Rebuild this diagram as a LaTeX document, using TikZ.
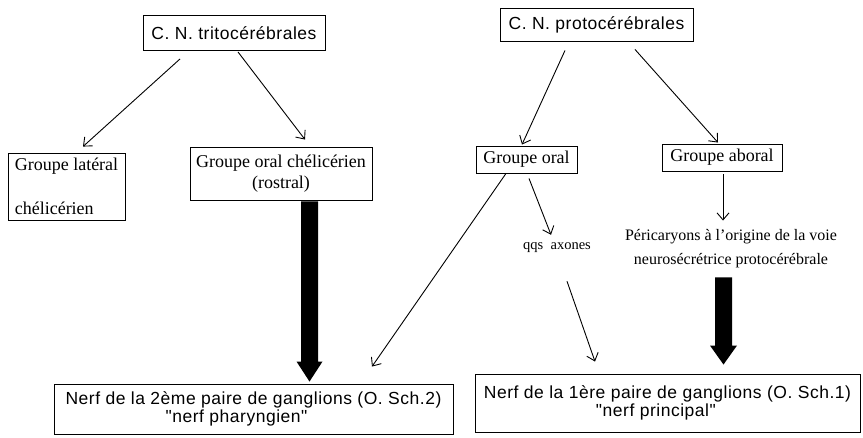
\documentclass[tikz,border=0pt]{standalone}
\usepackage{fontspec}
\setmainfont{Liberation Serif}
\newfontfamily\sansf[LetterSpace=3]{Liberation Sans}
\usetikzlibrary{arrows.meta,calc}
\begin{document}
\begin{tikzpicture}[x=1pt,y=-1pt,
  box/.style={draw, line width=0.9pt, inner sep=0pt, font=\sansf\fontsize{17.5}{21}\selectfont},
  sbox/.style={draw, line width=0.9pt, inner sep=0pt, font=\fontsize{18}{21}\selectfont},
  txt/.style={inner sep=0pt},
  arr/.style={line width=0.9pt, -{Straight Barb[length=7pt,width=12pt]}},
  blk/.style={fill=black}]
\fill[white] (0,0) rectangle (863,437);
\useasboundingbox (0,0) rectangle (863,437);

% top boxes
\node[box, minimum width=182pt, minimum height=35pt] (tri) at (234,33) {C. N. tritocérébrales};
\node[box, minimum width=193pt, minimum height=33pt] (proto) at (596.5,24.5) {C. N. protocérébrales};

% group boxes
\node[sbox, minimum width=117pt, minimum height=67pt, align=left] (lat) at (66.5,186.5) {Groupe latéral\\[23pt]chélicérien};
\node[sbox, minimum width=182pt, minimum height=53pt, align=center] (ocl) at (281,173.5) {Groupe oral chélicérien\\(rostral)};
\node[sbox, minimum width=101pt, minimum height=27pt] (oral) at (526.5,159.5) {Groupe oral};
\node[sbox, minimum width=120pt, minimum height=27pt] (aboral) at (722,157.5) {Groupe aboral};

% free texts
\node[txt, font=\fontsize{14.5}{17}\selectfont] (qqs) at (557,248) {qqs\hspace{0.5em}axones};
\node[txt, align=center, font=\fontsize{16}{19}\selectfont] (peri) at (731,249) {Péricaryons à l'origine de la voie\\[5pt]neurosécrétrice protocérébrale};

% bottom boxes
\node[box, minimum width=399pt, minimum height=50pt, align=left] (nerf2) at (253.5,409) {Nerf de la 2ème paire de ganglions (O. Sch.2)\\[-3pt]\hspace*{100pt}"nerf pharyngien"};
\node[box, minimum width=385pt, minimum height=58pt, align=left] (nerf1) at (667.5,403) {Nerf de la 1ère paire de ganglions (O. Sch.1)\\[-3pt]\hspace*{112pt}"nerf principal"};

% thin arrows
\draw[arr] ([xshift=-54pt,yshift=-8pt]tri.south) -- ([xshift=16.5pt,yshift=6pt]lat.north);
\draw[arr] ([xshift=4pt,yshift=-1pt]tri.south) -- ([xshift=24pt,yshift=7pt]ocl.north);
\draw[arr] ([xshift=-31.5pt,yshift=-9pt]proto.south) -- ([xshift=-4.5pt,yshift=1pt]oral.north);
\draw[arr] ([xshift=38.5pt,yshift=-8pt]proto.south) -- ([xshift=-4pt,yshift=1pt]aboral.north);
\draw[arr] ([xshift=-20.5pt]oral.south) -- ([xshift=118.5pt,yshift=17pt]nerf2.north);
\draw[arr] ([xshift=2.5pt,yshift=-5pt]oral.south) -- ([xshift=-6pt,yshift=8pt]qqs.north);
\draw[arr] ([xshift=10pt,yshift=-28pt]qqs.south) -- ([xshift=-72.5pt,yshift=12pt]nerf1.north);
\draw[arr] ([xshift=1pt,yshift=-3pt]aboral.south) -- ([xshift=-8pt,yshift=9pt]peri.north);

% thick black arrows
\coordinate (b1s) at ([xshift=28.5pt,yshift=-1pt]ocl.south);
\coordinate (b1e) at ([yshift=2pt]b1s |- nerf2.north);
\fill[blk] ($(b1s)+(-8.5,0)$) -- ($(b1s)+(8.5,0)$) -- ($(b1e)+(8.5,-20)$) -- ($(b1e)+(13,-20)$) -- (b1e) -- ($(b1e)+(-13,-20)$) -- ($(b1e)+(-8.5,-20)$) -- cycle;
\coordinate (b2s) at ([xshift=-7.5pt,yshift=-9pt]peri.south);
\coordinate (b2e) at ([yshift=9pt]b2s |- nerf1.north);
\fill[blk] ($(b2s)+(-8.5,0)$) -- ($(b2s)+(8.5,0)$) -- ($(b2e)+(8.5,-19)$) -- ($(b2e)+(13.5,-19)$) -- (b2e) -- ($(b2e)+(-13.5,-19)$) -- ($(b2e)+(-8.5,-19)$) -- cycle;
\end{tikzpicture}
\end{document}
